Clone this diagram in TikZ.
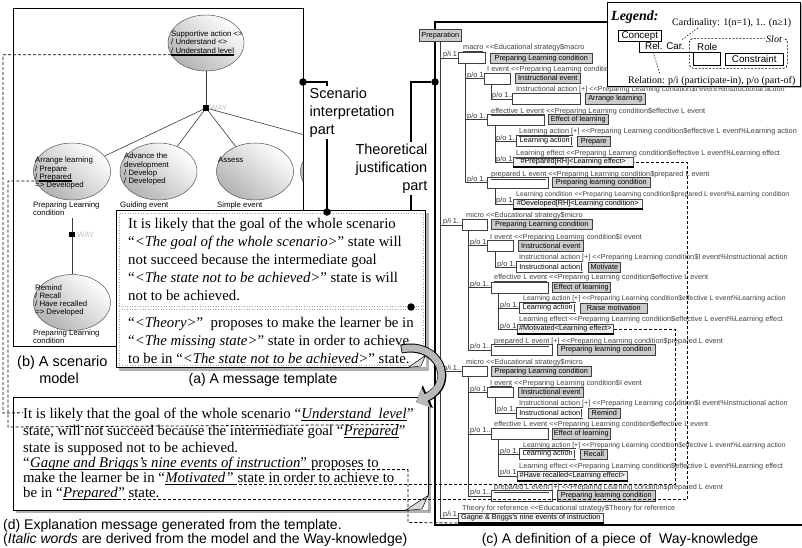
\documentclass[tikz,border=0pt]{standalone}
\usepackage{fontspec}
\setmainfont{Liberation Serif}
\newfontfamily\arialf{Liberation Sans}
\usetikzlibrary{shapes.geometric,arrows.meta,calc}
\newcommand\tfont{\arialf\fontsize{7.3}{8.5}\selectfont}
\newcommand\tsfont{\arialf\fontsize{6.9}{8.5}\selectfont}
\newcommand\efont{\arialf\fontsize{7.8}{8.5}\selectfont}
\newcommand\tmsf{\fontsize{14.8}{17}\selectfont}
\newcommand\capf{\arialf\fontsize{14}{17}\selectfont}
\newcommand\lblf{\arialf\fontsize{14.5}{18}\selectfont}
\newcommand\legf{\fontsize{10}{12}\selectfont}
\newcommand\legsf{\arialf\fontsize{9.8}{12}\selectfont}
\begin{document}
\begin{tikzpicture}[x=1pt,y=-1pt,
  every node/.style={inner sep=0},
  ell/.style={ellipse, draw=gray!65!black, line width=0.5pt, minimum width=77pt, minimum height=57pt, top color=white, bottom color=gray!60, shading angle=-40},
  etxt/.style={font=\efont, anchor=base west, text depth=0pt},
  sqn/.style={fill=black, minimum size=5.5pt},
  wayl/.style={font=\efont, text=gray!50, anchor=west},
  conn/.style={draw=gray!45!black, line width=0.6pt},
  dline/.style={dash pattern=on 3pt off 2pt, line width=0.8pt},
  cline/.style={line width=1.6pt},
  cdot/.style={circle, fill=black, minimum size=7.5pt},
  tl/.style={font=\tfont, text=gray!50!black, anchor=base west},
  rl/.style={font=\tfont, text=black!80, anchor=base west},
  rb/.style={draw=gray!50!black, fill=white, line width=0.5pt, anchor=north west, minimum height=10.5pt},
  cb/.style={draw=black!75, fill=gray!40, line width=0.6pt, font=\tfont, anchor=north west, minimum height=10pt},
  db/.style={draw=black!75, double=white, double distance=0.8pt, line width=0.4pt, fill=white, font=\tfont, anchor=north west, minimum height=9.5pt},
  vb/.style={draw=black!70, fill=gray!10, line width=0.5pt, font=\tfont, anchor=north west, minimum height=9.5pt},
  tline/.style={draw=gray!45!black, line width=0.5pt},
  tmsl/.style={font=\tmsf, anchor=base west, text depth=0pt},
]
\useasboundingbox (0,0) rectangle (802,547);

% ================= (c) tree panel
\draw[line width=1.3pt] (609,22) -- (435,22) -- (435,525) -- (802,525);
\node[cb, minimum width=42pt, minimum height=12pt] (prep) at (419,29) {Preparation};

% --- macro block
\node[rb, minimum width=27pt, minimum height=11pt] (m0) at (458,52) {};
\node[tl] (m0t) at (463,49.5) {\underline{macro} <{}<Educational strategy\$macro};
\node[rl] (m0r) at (443,56.5) {p/i 1};
\node[cb, minimum width=102pt] (m0c) at (490,53) {Preparing Learning condition};

\node[rb, minimum width=26pt] (m1) at (484,73) {};
\node[tl] (m1t) at (487,71.5) {\underline{I event} <{}<Preparing Learning condition\$I event};
\node[rl] (m1r) at (467,77) {p/o 1};
\node[cb, minimum width=65pt] (m1c) at (515,73) {Instructional event};

\node[rb, minimum width=68pt, minimum height=11pt] (m1a) at (512,93) {};
\node[tl] (m1at) at (516,91.5) {\underline{Instructional action} [+] <{}<Preparing Learning condition\$I event\%Instructional action};
\node[rl] (m1ar) at (492,97.5) {p/o 1..};
\node[cb, minimum width=60pt, minimum height=11pt] (m1ac) at (585,93) {Arrange learning};

\node[rb, minimum width=57pt] (m2) at (487,114) {};
\node[tl] (m2t) at (491,113.5) {\underline{effective L event} <{}<Preparing Learning condition\$effective L event};
\node[rl] (m2r) at (467,118.5) {p/o 1..};
\node[cb, minimum width=60pt] (m2c) at (548,114) {Effect of learning};

\node[db, minimum width=55pt] (m2a) at (517,136) {Learning action};
\node[tl] (m2at) at (519,133.5) {\underline{Learning action} [+] <{}<Preparing Learning condition\$effective L event\%Learning action};
\node[rl] (m2ar) at (496,140) {p/o 1..};
\node[cb, minimum width=33pt] (m2ac) at (577,136) {Prepare};

\node[vb, minimum width=120pt] (m2b) at (513,157) {\#Prepared[RH]<Learning effect>};
\node[tl] (m2bt) at (516,155.5) {\underline{Learning effect} <{}<Preparing Learning condition\$effective L event\%Learning effect};
\node[rl] (m2br) at (496,161) {p/o 1};

\node[rb, minimum width=61pt] (m3) at (487,177) {};
\node[tl] (m3t) at (491,176.5) {\underline{prepared L event} <{}<Preparing Learning condition\$prepared L event};
\node[rl] (m3r) at (467,181.5) {p/o 1..};
\node[cb, minimum width=98pt] (m3c) at (552,177) {Preparing learning condition};

\node[vb, minimum width=129pt] (m3a) at (513,199) {\#Developed[RH]<Learning condition>};
\node[tl, font=\tsfont] (m3at) at (516,196.5) {\underline{Learning condition} <{}<Preparing Learning condition\$prepared L event\%Learning condition};
\node[rl] (m3ar) at (496,202.5) {p/o 1};

% --- micro block 1
\node[rb, minimum width=25pt, minimum height=11pt] (a0) at (462,219) {};
\node[tl] (a0t) at (466,217.5) {\underline{micro} <{}<Educational strategy\$micro};
\node[rl] (a0r) at (443,223.5) {p/i 1..};
\node[cb, minimum width=101pt] (a0c) at (491,219) {Preparing Learning condition};

\node[rb, minimum width=26pt] (a1) at (487,240) {};
\node[tl] (a1t) at (490,239) {\underline{I event} <{}<Preparing Learning condition\$I event};
\node[rl] (a1r) at (470,244.5) {p/o 1};
\node[cb, minimum width=65pt, minimum height=11pt] (a1c) at (518,240) {Instructional event};

\node[db, minimum width=65pt] (a1a) at (517,262) {Instructional action};
\node[tl] (a1at) at (519,259.5) {\underline{Instructional action} [+] <{}<Preparing Learning condition\$I event\%Instructional action};
\node[rl] (a1ar) at (497,266) {p/o 1..};
\node[cb, minimum width=32pt] (a1ac) at (588,262) {Motivate};

\node[rb, minimum width=57pt] (a2) at (491,282) {};
\node[tl] (a2t) at (494,279.5) {\underline{effective L event} <{}<Preparing Learning condition\$effective L event};
\node[rl] (a2r) at (470,286) {p/o 1..};
\node[cb, minimum width=58pt] (a2c) at (552,282) {Effect of learning};

\node[db, minimum width=55pt] (a2a) at (520,303) {Learning action};
\node[tl, font=\tsfont] (a2at) at (523,300.5) {\underline{Learning action} [+] <{}<Preparing Learning condition\$effective L event\%Learning action};
\node[rl] (a2ar) at (500,307) {p/o 1..};
\node[cb, minimum width=67pt] (a2ac) at (580,303) {Raise motivation};

\node[vb, minimum width=96pt] (a2b) at (517,324) {\#Motivated<Learning effect>};
\node[tl] (a2bt) at (519,321.5) {\underline{Learning effect} <{}<Preparing Learning condition\$effective L event\%Learning effect};
\node[rl] (a2br) at (500,328) {p/o 1};

\node[rb, minimum width=61pt, minimum height=11pt] (a3) at (491,344) {};
\node[tl] (a3t) at (494,343) {\underline{prepared L event} [+] <{}<Preparing Learning condition\$prepared L event};
\node[rl] (a3r) at (470,348.5) {p/o 1..};
\node[cb, minimum width=98pt, minimum height=11pt] (a3c) at (557,344) {Preparing learning condition};

% --- micro block 2
\node[rb, minimum width=25pt, minimum height=10pt] (b0) at (462,366) {};
\node[tl] (b0t) at (466,364.5) {\underline{micro} <{}<Educational strategy\$micro};
\node[rl] (b0r) at (443,370) {p/i 1..};
\node[cb, minimum width=100pt] (b0c) at (491,366) {Preparing Learning condition};

\node[rb, minimum width=26pt, minimum height=10pt] (b1) at (487,387) {};
\node[tl] (b1t) at (490,385) {\underline{I event} <{}<Preparing Learning condition\$I event};
\node[rl] (b1r) at (470,391) {p/o 1};
\node[cb, minimum width=65pt] (b1c) at (518,387) {Instructional event};

\node[db, minimum width=65pt] (b1a) at (517,408) {Instructional action};
\node[tl] (b1at) at (519,405.5) {\underline{Instructional action} [+] <{}<Preparing Learning condition\$I event\%Instructional action};
\node[rl] (b1ar) at (497,411.5) {p/o 1..};
\node[cb, minimum width=32pt, minimum height=9.5pt] (b1ac) at (588,408) {Remind};

\node[rb, minimum width=57pt, minimum height=11pt] (b2) at (491,428) {};
\node[tl] (b2t) at (494,426.5) {\underline{effective L event} <{}<Preparing Learning condition\$effective L event};
\node[rl] (b2r) at (470,432.5) {p/o 1..};
\node[cb, minimum width=58pt, minimum height=11pt] (b2c) at (552,428) {Effect of learning};

\node[db, minimum width=55pt] (b2a) at (520,449) {Learning action};
\node[tl, font=\tsfont] (b2at) at (523,447.5) {\underline{Learning action} [+] <{}<Preparing Learning condition\$effective L event\%Learning action};
\node[rl] (b2ar) at (500,453) {p/o 1..};
\node[cb, minimum width=27pt] (b2ac) at (580,449) {Recall};

\node[vb, minimum width=110pt] (b2b) at (517,471) {\#Have recalled<Learning effect>};
\node[tl] (b2bt) at (519,468.5) {\underline{Learning effect} <{}<Preparing Learning condition\$effective L event\%Learning effect};
\node[rl] (b2br) at (500,474.5) {p/o 1};

\node[rb, minimum width=61pt, minimum height=11pt] (b3) at (491,490) {};
\node[tl] (b3t) at (494,489) {\underline{prepared L event} [+] <{}<Preparing Learning condition\$prepared L event};
\node[rl] (b3r) at (470,494.5) {p/o 1..};
\node[cb, minimum width=98pt, minimum height=11pt] (b3c) at (557,490) {Preparing learning condition};

% --- theory
\node[tl] (tht) at (462,510.5) {\underline{Theory for reference} <{}<Educational strategy\$Theory for reference};
\node[rl] (thr) at (443,516.5) {p/i 1};
\node[vb, minimum width=145pt] (gag) at (458,513) {Gagne \& Briggs's nine events of instruction};

% --- tree lines
\foreach \c in {m0,a0,b0,gag} \draw[tline] (prep.south) |- (\c.west);
\foreach \c in {m1,m2,m3} \draw[tline] ($(m0.south west)+(7,0)$) |- (\c.west);
\draw[tline] ($(m1.south west)+(7,0)$) |- (m1a.west);
\foreach \c in {m2a,m2b} \draw[tline] ($(m2.south west)+(8,0)$) |- (\c.west);
\draw[tline] ($(m3.south west)+(8,0)$) |- (m3a.west);
\foreach \c in {a1,a2,a3} \draw[tline] ($(a0.south west)+(6,0)$) |- (\c.west);
\draw[tline] ($(a1.south west)+(8,0)$) |- (a1a.west);
\foreach \c in {a2a,a2b} \draw[tline] ($(a2.south west)+(7,0)$) |- (\c.west);
\foreach \c in {b1,b2,b3} \draw[tline] ($(b0.south west)+(6,0)$) |- (\c.west);
\draw[tline] ($(b1.south west)+(8,0)$) |- (b1a.west);
\foreach \c in {b2a,b2b} \draw[tline] ($(b2.south west)+(7,0)$) |- (\c.west);
\foreach \c in {m2b,m3a,a2b,b2b,gag} \draw[line width=1.5pt] (\c.south west) -- (\c.south east);

% ================= legend
\fill[gray!55] (609,4) rectangle (802,88);
\node[draw, fill=white, line width=0.8pt, minimum width=193pt, minimum height=84pt, anchor=north west] (leg) at (607,2) {};
\node[anchor=base west, font=\fontsize{14}{16}\selectfont\bfseries\itshape] (legt) at (611,20) {Legend:};
\node[anchor=base west, font=\legf] (card) at (672,25) {Cardinality: 1(n=1), 1.. (n≥1)};
\node[rb, draw=black, minimum width=43pt, minimum height=11pt, font=\legsf] (conc) at (618,30) {Concept};
\node[anchor=base west, font=\legsf] (relcar) at (645,49) {Rel. Car.};
\node[rb, draw=black, minimum width=27pt, minimum height=13pt] (role) at (693,52) {};
\node[anchor=base west, font=\legsf] (rolet) at (697,50) {Role};
\node[rb, draw=black, minimum width=58pt, minimum height=12pt, font=\legsf] (cons) at (725,53) {Constraint};
\node[draw, dash pattern=on 2pt off 1.5pt, rounded corners=4pt, line width=0.7pt, minimum width=98pt, minimum height=30pt, anchor=north west] (slot) at (689,38) {};
\node[fill=white, inner sep=1pt, font=\legf\itshape] (slott) at (774,39) {Slot};
\draw[line width=0.6pt] (conc.south) |- (role.north west);
\node[anchor=base west, font=\legf] (relt) at (628,83) {Relation: p/i (participate-in), p/o (part-of)};
\draw[dash pattern=on 1.5pt off 1.5pt, line width=0.5pt] ($(card.base west)+(26,3)$) -- ($(relcar.base east)+(-3,-9)$);
\draw[dash pattern=on 1.5pt off 1.5pt, line width=0.5pt] ($(relcar.base west)+(8,3)$) -- ($(relt.base west)+(32,-9)$);

% ================= (b) scenario model
\node[draw, line width=1.2pt, minimum width=290pt, minimum height=338pt, anchor=north west] (bbox) at (13,8) {};
\begin{scope}
\clip (13,8) rectangle (303,346);
\node[ell, minimum width=76pt, minimum height=56pt] (e0) at (206,43) {};
\node[sqn] (w1) at (206,108) {};
\node[wayl] (w1l) at (210,108) {WAY};
\node[ell] (e1) at (72,171.5) {};
\node[ell] (e2) at (158.5,171.5) {};
\node[ell] (e3) at (255,171.5) {};
\node[ell] (e4) at (339,171.5) {};
\draw[conn] (e0) -- (w1);
\draw[conn] (w1) -- (e1);
\draw[conn] (w1) -- (e2);
\draw[conn] (w1) -- (e3);
\draw[conn] (w1) -- (e4.100);
\end{scope}
\node[etxt] (t01) at (171,36) {Supportive action <{}>};
\node[etxt] (t02) at (171,44.5) {/ Understand <{}>};
\node[etxt] (t03) at (171,53) {/ Understand level};
\draw[line width=1.6pt] ($(t03.base west)+(0,1.8)$) -- ($(t03.base east)+(0,1.8)$);

\node[etxt] (t11) at (35,162.5) {Arrange learning};
\node[etxt] (t12) at (35,171) {/ Prepare};
\node[etxt] (t13) at (35,179) {/ Prepared};
\node[etxt] (t14) at (35,187.5) {=> Developed};
\draw[line width=1.6pt] ($(t13.base west)+(4.3,2)$) -- ($(t13.base east)+(0,2)$);
\node[etxt] (t21) at (124,158.5) {Advance the};
\node[etxt] (t22) at (124,167) {development};
\node[etxt] (t23) at (124,175) {/ Develop};
\node[etxt] (t24) at (124,183.5) {/ Developed};
\node[etxt] (t31) at (218,162.5) {Assess};
\node[etxt] (l11) at (33,207.5) {Preparing Learning};
\node[etxt] (l12) at (33,215.5) {condition};
\node[etxt] (l2) at (120,207.5) {Guiding event};
\node[etxt] (l3) at (217,207.5) {Simple event};

\coordinate (e1b) at (72,218);
\node[sqn] (w2) at (72,234.5) {};
\node[wayl] (w2l) at (77,234.5) {WAY};
\node[ell, minimum height=56pt] (er) at (72,302.5) {};
\draw[conn] (e1b) -- (w2) -- (er);
\node[etxt] (r1) at (35,290.5) {Remind};
\node[etxt] (r2) at (35,298.5) {/ Recall};
\node[etxt] (r3) at (35,306.5) {/ Have recalled};
\node[etxt] (r4) at (35,314.5) {=> Developed};
\node[etxt] (l41) at (33,335.5) {Preparing Learning};
\node[etxt] (l42) at (33,343.5) {condition};

\node[anchor=base west, font=\lblf] (capb1) at (17,366) {(b) A scenario};
\node[anchor=base, font=\lblf] (capb2) at (59,383) {model};

% ================= callouts
\coordinate (sc1) at (303,82);
\coordinate (sc2) at (327,82);
\coordinate (p1) at (327,212);
\draw[cline] (sc1) -- (sc2) -- (p1);
\node[cdot] (d0) at (sc1) {};
\node[fill=white, inner sep=1.5pt, anchor=north west, align=left, font=\lblf] (sclab) at (308,86) {Scenario\\interpretation\\part};
\coordinate (tc) at (411,82);
\coordinate (p3) at (411,307);
\node[cdot] (d2) at (435,82) {};
\draw[cline] (d2) -- (tc) -- (p3);
\node[fill=white, inner sep=1.5pt, anchor=north east, align=right, font=\lblf] (tjlab) at (429,142) {Theoretical\\justification\\part};

% ================= (a) template
\fill[gray!60] (119,213) rectangle (429,371);
\node[draw, fill=white, line width=1pt, anchor=north west, minimum width=309pt, minimum height=157pt] (tpl) at (116,210) {};
\node[draw=gray!70, dotted, line width=0.6pt, anchor=north west, minimum width=303.5pt, minimum height=93.5pt] (tplA) at (119,212.5) {};
\node[draw=gray!70, dotted, line width=0.6pt, anchor=north west, minimum width=303.5pt, minimum height=56.5pt] (tplB) at (119,308.5) {};
\node[tmsl] (tl1) at (128,228) {It is likely that the goal of the whole scenario};
\node[tmsl] (tl2) at (128,246) {“\textit{<The goal of the whole scenario>}” state will};
\node[tmsl] (tl3) at (128,264) {not succeed because the intermediate goal};
\node[tmsl] (tl4) at (128,282) {“\textit{<The state not to be achieved>}” state is will};
\node[tmsl] (tl5) at (128,300) {not to be achieved.};
\node[tmsl] (tl6) at (128,327) {“\textit{<Theory>}”\ \ proposes to make the learner be in};
\node[tmsl] (tl7) at (128,345) {“\textit{<The missing state>}” state in order to achieve};
\node[tmsl] (tl8) at (128,363) {to be in “\textit{<The state not to be achieved>}” state.};
\fill[white] (408,367.5) -- (426,367.5) -- (426,355) -- cycle;
\filldraw[fill=gray!30, draw=black, line width=0.5pt] (408,367.5) -- (425.5,355.5) -- (421,366) -- cycle;
\node[cdot] (d1) at (p1) {};
\node[cdot] (d3) at (p3) {};
\node[anchor=base, font=\capf] (capa) at (263,383) {(a) A message template};

% ================= (d) explanation
\fill[gray!60] (16,400) rectangle (431,513);
\node[draw, fill=white, line width=1pt, anchor=north west, minimum width=415pt, minimum height=113pt] (expl) at (13,397) {};
\node[tmsl] (x1a) at (23,418) {It is likely that the goal of the whole scenario “};
\node[tmsl] (x1u) at (x1a.base east) {\textit{Understand\ \ level}};
\node[tmsl] (x1b) at (x1u.base east) {”};
\node[tmsl] (x2a) at (23,435) {state, will not succeed because the intermediate goal “};
\node[tmsl] (x2u) at (x2a.base east) {\textit{Prepared}};
\node[tmsl] (x2b) at (x2u.base east) {”};
\node[tmsl] (x3) at (23,452) {state is supposed not to be achieved.};
\node[tmsl] (x4a) at (23,467) {“};
\node[tmsl] (x4u) at (x4a.base east) {\textit{Gagne and Briggs's nine events of instruction}”};
\node[tmsl] (x4b) at (x4u.base east) {\ proposes to};
\node[tmsl] (x5a) at (23,482) {make the learner be in “};
\node[tmsl] (x5u) at (x5a.base east) {\textit{Motivated”}};
\node[tmsl] (x5b) at (x5u.base east) {\ state in order to achieve to};
\node[tmsl] (x6a) at (23,497) {be in “};
\node[tmsl] (x6u) at (x6a.base east) {\textit{Prepared}};
\node[tmsl] (x6b) at (x6u.base east) {”\ state.};
\foreach \n in {x1u,x2u,x4u,x5u,x6u}
  \draw[line width=1.6pt] ($(\n.base west)+(0,2.6)$) -- ($(\n.base east)+(0,2.6)$);
\fill[white] (405,510.5) -- (428.5,510.5) -- (428.5,495) -- cycle;
\filldraw[fill=gray!30, draw=black, line width=0.5pt] (405,510.5) -- (428,495.5) -- (422,509) -- cycle;

\node[anchor=base west, font=\capf] (capd1) at (3,529) {(d) Explanation message generated from the template.};
\node[anchor=base west, font=\capf] (capd2) at (3,543) {(\textit{Italic words} are derived from the model and the Way-knowledge)};
\node[anchor=base, font=\capf] (capc) at (620,543) {(c) A definition of a piece of\ \ Way-knowledge};

% ================= dashed correspondences
\draw[dline] ($(t03.base west)+(0,1.8)$) -| (3,413) -- (x1a.west);
\draw[dline] ($(t13.base west)+(4.3,2)$) -| (8,427) -- (x2u.north east);
\draw[dline] ($(x4u.base east)+(0,2.6)$) -| (408,522.5) -- (gag.south west);
\draw[dline] ($(x5u.base east)+(0,2.6)$) -| (675,329) -- (a2b.east);
\draw[dline] ($(x6u.base east)+(0,2.6)$) -| (687,162) -- (m2b.east);

% ================= curved arrow
\draw[-{Triangle[length=13pt,width=24pt]}, line width=9pt] (401,349) .. controls (440,341) and (456,384) .. (416,402);
\draw[-{Triangle[length=11pt,width=20.5pt]}, line width=7pt, draw=gray!55] (401.8,349) .. controls (440,341) and (456,384) .. (416,402);
\end{tikzpicture}
\end{document}
